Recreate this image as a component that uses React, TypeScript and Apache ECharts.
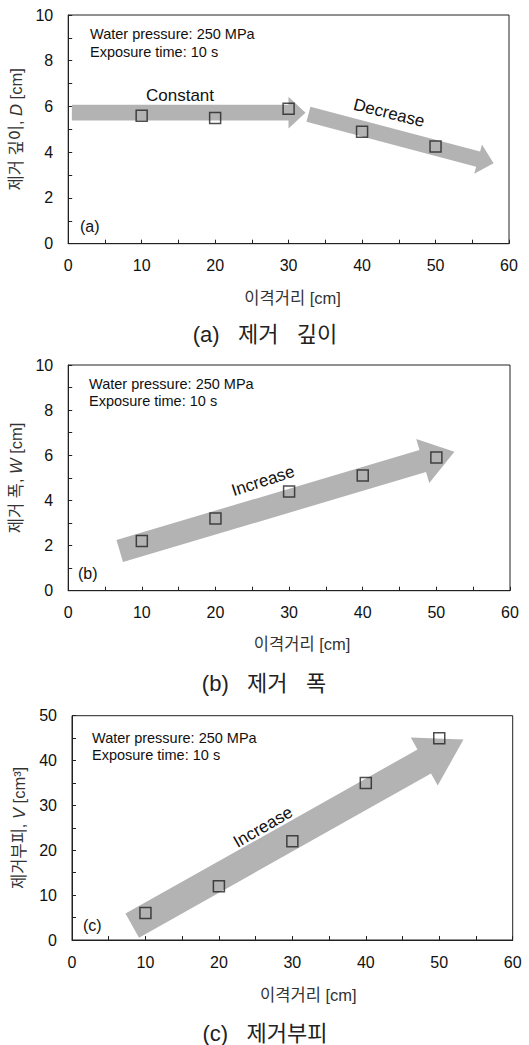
import React, { useEffect, useRef } from "react";
import * as echarts from "echarts";

// ---- data ----
const distance = [10, 20, 30, 40, 50];
const removalDepth = [5.6, 5.5, 5.9, 4.9, 4.25];
const removalWidth = [2.2, 3.2, 4.4, 5.1, 5.9];
const removalVolume = [6, 12, 22, 35, 45];

// arrows: [x1, y1, x2(tip), y2(tip)] in data units
const depthArrows = [
  [0.5, 5.73, 32.3, 5.73],
  [32.7, 5.66, 57.9, 3.52],
];
const widthArrows = [[7.0, 1.76, 52.45, 6.16]];
const volumeArrows = [[8.2, 3.2, 53.3, 44.7]];

const xTicksMax = 60;
const depthMax = 10;
const widthMax = 10;
const volumeMax = 50;

// ---- styles ----
const AX = "#222";
const FONT = "'Liberation Sans', Arial, 'Noto Sans CJK KR', sans-serif";
const KFONT = "'Liberation Sans', 'Noto Sans CJK KR', sans-serif";
const ARROW_FILL = "#b3b3b3";
// [bodyHalf, headHalf, headLen] in px
const depthArrowSizes = [
  [7.8, 15.8, 17],
  [7.8, 15.2, 16],
];
const widthArrowSizes = [[11.5, 23, 33]];
const volumeArrowSizes = [[13.8, 27.5, 45]];

function arrowSeries(idx: number, data: number[][], sizes: number[][]) {
  return {
    type: "custom",
    xAxisIndex: idx,
    yAxisIndex: idx,
    data,
    z: 1,
    silent: true,
    renderItem: (params: any, api: any) => {
      const s = sizes[params.dataIndex];
      const p1 = api.coord([api.value(0), api.value(1)]);
      const p2 = api.coord([api.value(2), api.value(3)]);
      const dx = p2[0] - p1[0];
      const dy = p2[1] - p1[1];
      const L = Math.hypot(dx, dy);
      const ux = dx / L, uy = dy / L;
      const nx = -uy, ny = ux;
      const [bw, hw, hl] = s;
      const bx = p2[0] - ux * hl, by = p2[1] - uy * hl;
      const points = [
        [p1[0] + nx * bw, p1[1] + ny * bw],
        [bx + nx * bw, by + ny * bw],
        [bx + nx * hw, by + ny * hw],
        [p2[0], p2[1]],
        [bx - nx * hw, by - ny * hw],
        [bx - nx * bw, by - ny * bw],
        [p1[0] - nx * bw, p1[1] - ny * bw],
      ];
      return { type: "polygon", shape: { points }, style: { fill: ARROW_FILL } };
    },
  };
}

function scatterSeries(idx: number, values: number[]) {
  return {
    type: "scatter",
    xAxisIndex: idx,
    yAxisIndex: idx,
    data: distance.map((x, i) => [x, values[i]]),
    symbol: "rect",
    symbolSize: 11,
    z: 3,
    itemStyle: { color: "rgba(0,0,0,0)", borderColor: "#222", borderWidth: 1.5 },
  };
}

function xAxisCfg(idx: number, nameGap: number, off: number) {
  return {
    gridIndex: idx,
    type: "value",
    min: 0,
    max: xTicksMax,
    interval: 10,
    axisLine: { show: true, onZero: false, lineStyle: { color: AX, width: 1 } },
    axisTick: { show: true, inside: true, length: 4, lineStyle: { color: AX } },
    minorTick: { show: true, splitNumber: 2, length: 4, lineStyle: { color: AX } },
    splitLine: { show: false },
    axisLabel: { color: "#111", fontSize: 16, fontFamily: FONT, margin: 14 },
    name: "이격거리 [cm]",
    nameLocation: "middle",
    nameGap,
    nameTextStyle: {
      color: "#333",
      fontSize: 16.5,
      fontFamily: KFONT,
      padding: [0, 0, 0, off * 2],
    },
  };
}

function yAxisCfg(idx: number, max: number, interval: number, name: string, nameGap: number, rich: any) {
  return {
    gridIndex: idx,
    type: "value",
    min: 0,
    max,
    interval,
    axisLine: { show: true, onZero: false, lineStyle: { color: AX, width: 1 } },
    axisTick: { show: true, inside: true, length: 4, lineStyle: { color: AX } },
    minorTick: { show: true, splitNumber: 2, length: 4, lineStyle: { color: AX } },
    splitLine: { show: false },
    axisLabel: { color: "#111", fontSize: 16, fontFamily: FONT, margin: 15 },
    name,
    nameLocation: "middle",
    nameGap,
    nameTextStyle: { color: "#333", fontSize: 16.5, fontFamily: KFONT, rich },
  };
}

function txt(text: string, x: number, y: number, size: number, opts: any = {}) {
  return {
    type: "text",
    x,
    y,
    rotation: opts.rotation || 0,
    silent: true,
    z: 10,
    style: {
      text,
      fill: opts.fill || "#111",
      fontSize: size,
      fontFamily: opts.font || FONT,
      textAlign: opts.align || "left",
      textVerticalAlign: "middle",
    },
  };
}

const deg = (d: number) => (d * Math.PI) / 180;

export default function App() {
  const ref = useRef<HTMLDivElement>(null);
  useEffect(() => {
    if (!ref.current) return;
    const chart = echarts.init(ref.current, undefined, { renderer: "svg" });
    const italic = { fontStyle: "italic", fontSize: 16.5, fontFamily: FONT, color: "#333" };
    const option: any = {
      animation: false,
      backgroundColor: "#fff",
      grid: [
        { left: 67.7, top: 15, width: 441.3, height: 228.7, show: true, borderColor: AX, borderWidth: 1 },
        { left: 66.7, top: 365, width: 443.3, height: 225.7, show: true, borderColor: AX, borderWidth: 1 },
        { left: 72, top: 715.7, width: 440.7, height: 224.3, show: true, borderColor: AX, borderWidth: 1 },
      ],
      xAxis: [xAxisCfg(0, 46, 4), xAxisCfg(1, 45, 13), xAxisCfg(2, 47, 16)],
      yAxis: [
        yAxisCfg(0, depthMax, 2, "제거 깊이, {i|D} [cm]", 40, { i: italic }),
        yAxisCfg(1, widthMax, 2, "제거 폭, {i|W} [cm]", 40, { i: italic }),
        yAxisCfg(2, volumeMax, 10, "제거부피, {i|V} [cm³]", 45, { i: italic }),
      ],
      series: [
        arrowSeries(0, depthArrows, depthArrowSizes),
        scatterSeries(0, removalDepth),
        arrowSeries(1, widthArrows, widthArrowSizes),
        scatterSeries(1, removalWidth),
        arrowSeries(2, volumeArrows, volumeArrowSizes),
        scatterSeries(2, removalVolume),
      ],
      graphic: [
        // panel a
        txt("Water pressure: 250 MPa", 90, 34, 14.5),
        txt("Exposure time: 10 s", 90, 52, 14.5),
        txt("(a)", 80, 226, 16),
        txt("Constant", 180, 95, 17, { align: "center" }),
        txt("Decrease", 389, 113, 17, { align: "center", rotation: deg(-14) }),
        txt("(a)   제거   깊이", 265, 334, 22, { align: "center", font: KFONT, fill: "#222" }),
        // panel b
        txt("Water pressure: 250 MPa", 89, 384, 14.5),
        txt("Exposure time: 10 s", 89, 401, 14.5),
        txt("(b)", 78, 573, 16),
        txt("Increase", 263, 481, 17, { align: "center", rotation: deg(18) }),
        txt("(b)   제거   폭", 264, 683, 22, { align: "center", font: KFONT, fill: "#222" }),
        // panel c
        txt("Water pressure: 250 MPa", 92, 738, 14.5),
        txt("Exposure time: 10 s", 92, 755, 14.5),
        txt("(c)", 83, 925, 16),
        txt("Increase", 263, 827, 17, { align: "center", rotation: deg(30) }),
        txt("(c)   제거부피", 265, 1033, 22, { align: "center", font: KFONT, fill: "#222" }),
      ],
    };
    chart.setOption(option);
    return () => chart.dispose();
  }, []);
  return (
    <div
      ref={ref}
      style={{ position: "absolute", left: 0, top: 0, width: 529, height: 1045 }}
    />
  );
}
